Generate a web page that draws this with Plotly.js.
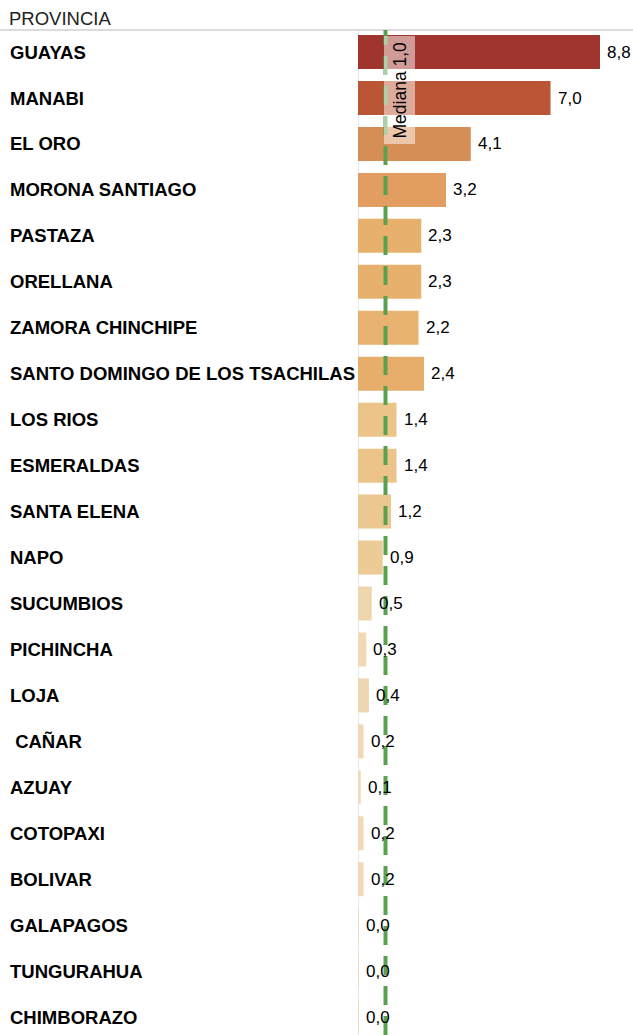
<!DOCTYPE html>
<html>
<head>
<meta charset="utf-8">
<script src="https://cdn.plot.ly/plotly-3.0.1.min.js"></script>
<style>html,body{margin:0;padding:0;background:#fff;}#chart{width:633px;height:1035px;}</style>
</head>
<body>
<div id="chart"></div>
<script>
// ---- data ----
const provincias = ["GUAYAS","MANABI","EL ORO","MORONA SANTIAGO","PASTAZA","ORELLANA","ZAMORA CHINCHIPE",
  "SANTO DOMINGO DE LOS TSACHILAS","LOS RIOS","ESMERALDAS","SANTA ELENA","NAPO","SUCUMBIOS","PICHINCHA",
  "LOJA","\u00a0CAÑAR","AZUAY","COTOPAXI","BOLIVAR","GALAPAGOS","TUNGURAHUA","CHIMBORAZO"];
const valores = [8.8,7.0,4.1,3.2,2.3,2.3,2.2,2.4,1.4,1.4,1.2,0.9,0.5,0.3,0.4,0.2,0.1,0.2,0.2,0.03,0.03,0.03];
const mediana = 1.0;
const encabezado = "PROVINCIA";

// ---- layout constants ----
const W = 633, H = 1035, L = 358, T = 30;
const plotW = W - L, plotH = H - T;
const fmt = v => v.toFixed(1).replace('.', ',');
const FONT = 'Arial, Liberation Sans, sans-serif';

const colorscale = [
  [0.0, '#F1DDBB'], [0.06, '#EFD6AE'], [0.1, '#EDCB96'], [0.16, '#ECC48A'],
  [0.26, '#E8B06D'], [0.36, '#E19F60'], [0.47, '#D68D57'], [0.8, '#BA5536'], [1.0, '#A0352F']
];

const trace = {
  type: 'bar', orientation: 'h',
  y: provincias, x: valores,
  width: 0.74,
  marker: {color: valores, colorscale: colorscale, cmin: 0, cmax: 8.8, line: {width: 0}},
  hoverinfo: 'skip'
};

const annotations = [];
provincias.forEach((p, i) => {
  annotations.push({
    xref: 'paper', yref: 'y', x: (8 - L) / plotW, y: p, xanchor: 'left', yanchor: 'middle',
    text: '<b>' + p + '</b>', showarrow: false,
    font: {family: FONT, size: 18.5, color: '#000'}
  });
  annotations.push({
    xref: 'x', yref: 'y', x: valores[i], y: p, xanchor: 'left', yanchor: 'middle', xshift: 5,
    text: fmt(valores[i]), showarrow: false,
    font: {family: FONT, size: 17, color: '#000'}
  });
});
annotations.push({
  xref: 'paper', yref: 'paper', x: (7 - L) / plotW, y: 1 + 12 / plotH, xanchor: 'left', yanchor: 'middle',
  text: encabezado, showarrow: false,
  font: {family: FONT, size: 18.5, color: '#222'}
});
annotations.push({
  xref: 'x', yref: 'paper', x: mediana, y: 1 - (90 - T) / plotH, xanchor: 'center', yanchor: 'middle', xshift: 14,
  text: 'Mediana ' + fmt(mediana), textangle: -90, showarrow: false,
  bgcolor: 'rgba(255,255,255,0.5)', borderpad: 5,
  font: {family: FONT, size: 17.5, color: '#000'}
});

const layout = {
  width: W, height: H,
  margin: {l: L, r: 0, t: T, b: 0, pad: 0},
  paper_bgcolor: '#fff', plot_bgcolor: '#fff',
  showlegend: false,
  xaxis: {range: [0, 10], showgrid: false, zeroline: false, showticklabels: false, showline: false, fixedrange: true},
  yaxis: {type: 'category', range: [21.39, -0.48], showgrid: false, zeroline: false, showticklabels: false, showline: false, fixedrange: true},
  shapes: [
    {type: 'line', xref: 'paper', yref: 'paper', x0: -L / plotW, x1: 1, y0: 1, y1: 1, line: {color: '#dcdcdc', width: 2}, layer: 'below'},
    {type: 'line', xref: 'x', yref: 'paper', x0: 0, x1: 0, y0: 0, y1: 1, line: {color: '#d4d4d4', width: 1}, layer: 'below'},
    {type: 'line', xref: 'x', yref: 'paper', x0: mediana, x1: mediana, y0: 0, y1: 1, line: {color: '#59A14F', width: 4, dash: '19px,11px'}, layer: 'above'}
  ],
  annotations: annotations
};

Plotly.newPlot('chart', [trace], layout, {displayModeBar: false, staticPlot: true});
</script>
</body>
</html>
